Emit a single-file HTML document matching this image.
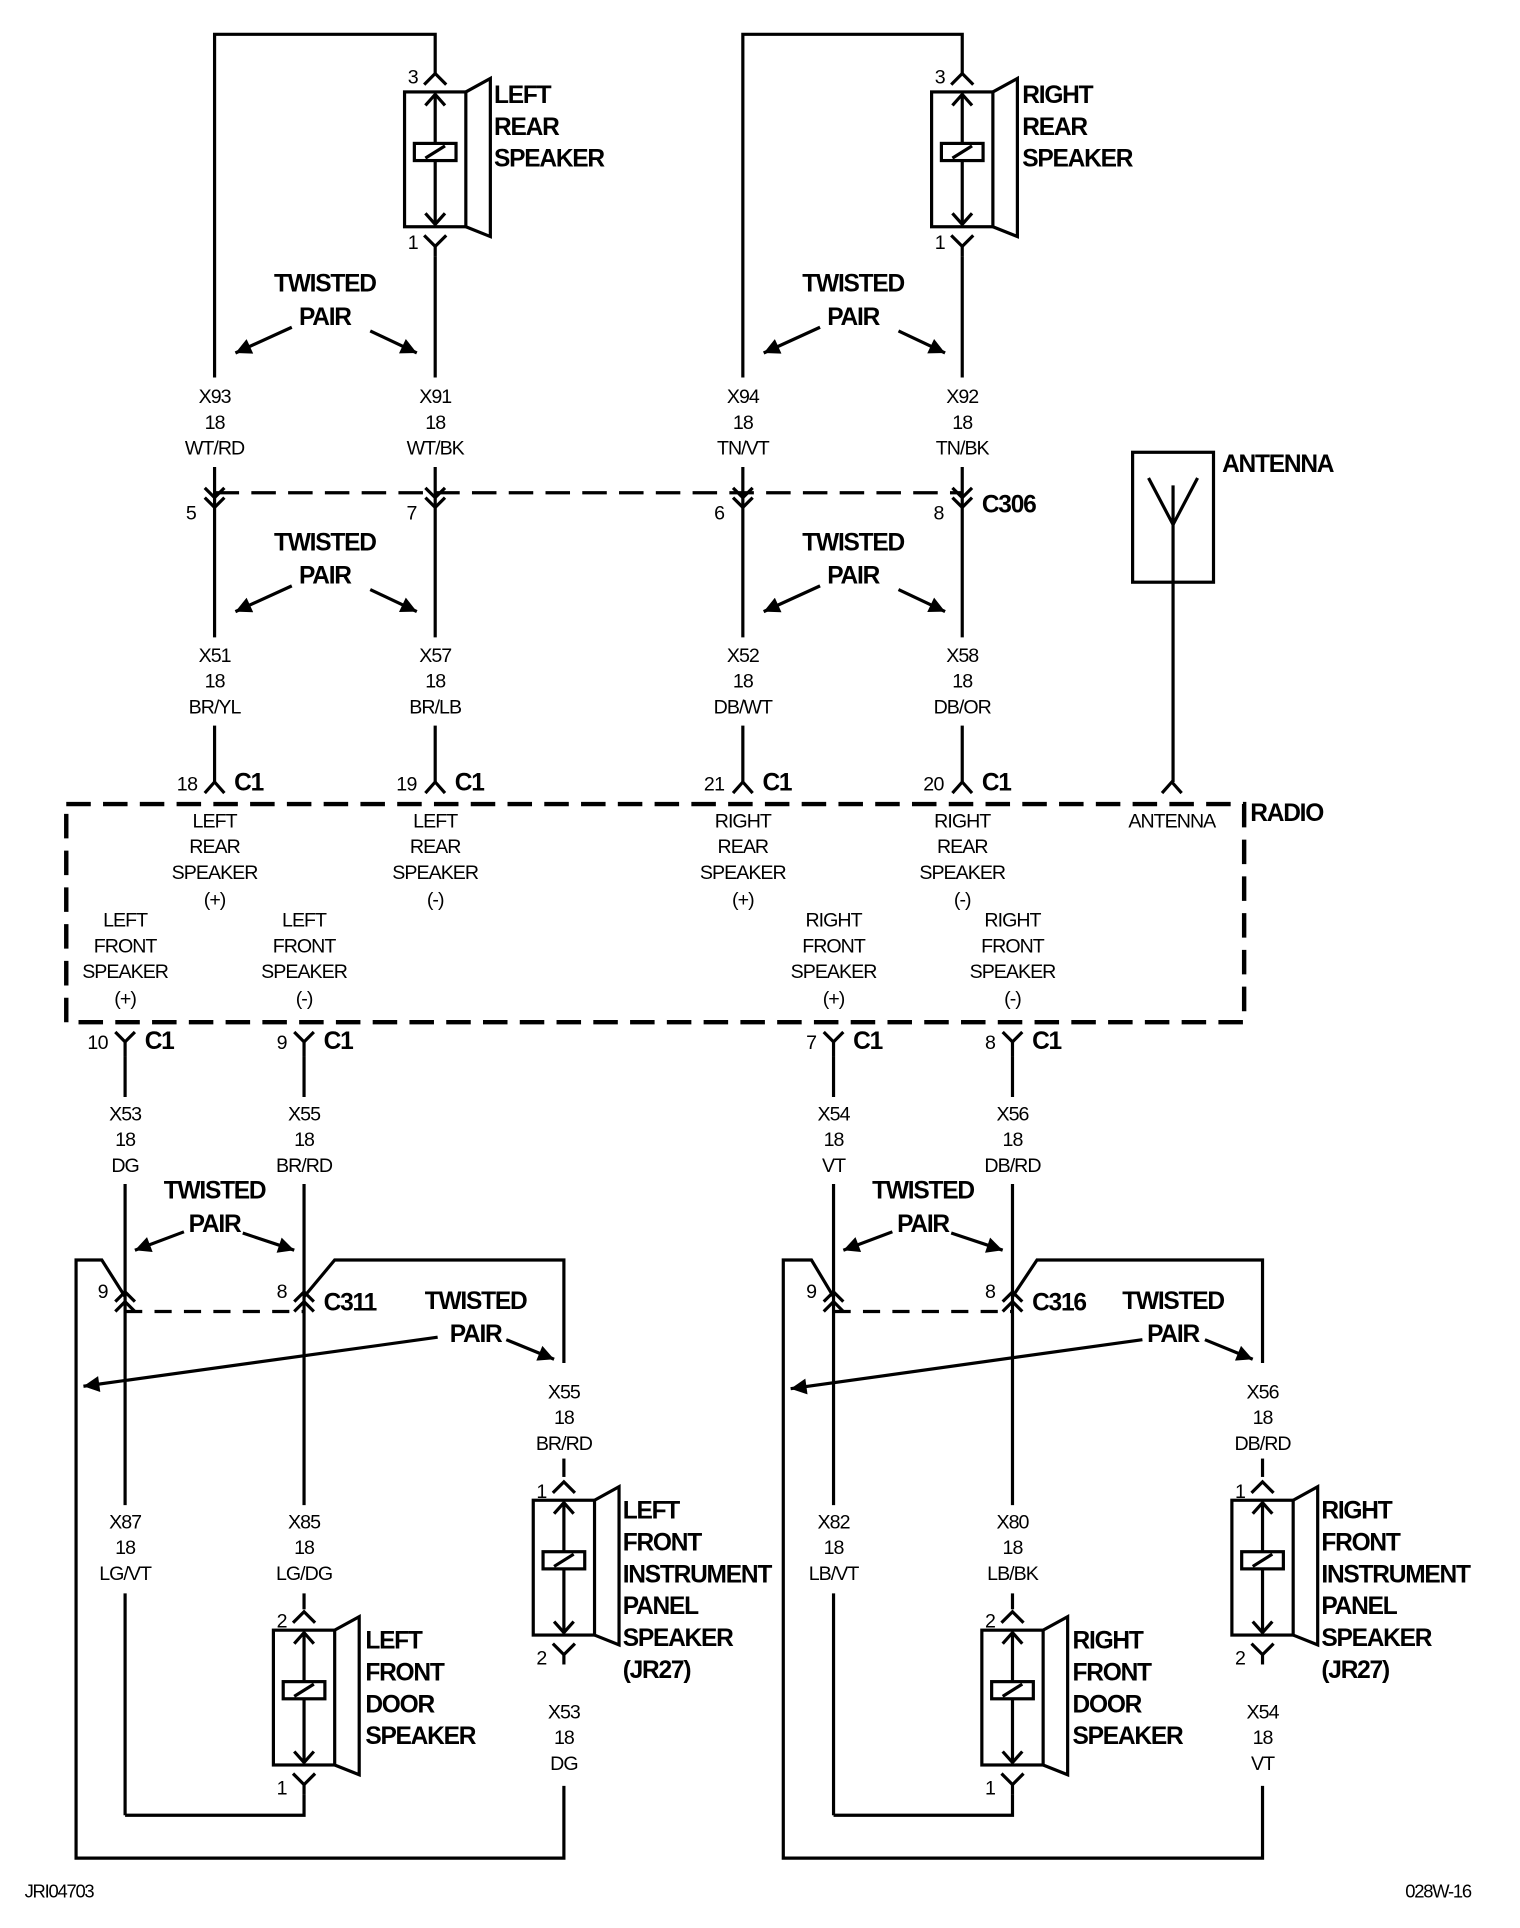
<!DOCTYPE html>
<html><head><meta charset="utf-8"><style>
html,body{margin:0;padding:0;background:#fff}
svg{display:block}
text{font-family:"Liberation Sans",sans-serif;fill:#000}
.w{font-size:16px;text-anchor:middle;letter-spacing:-0.8px}
.n{font-size:16px;text-anchor:end;letter-spacing:-0.5px}
.b{font-size:20px;font-weight:bold;letter-spacing:-1px}
.bc{font-size:20px;font-weight:bold;letter-spacing:-1px;text-anchor:middle}
.s{fill:none;stroke:#000;stroke-width:2.6}
</style></head><body>
<svg width="1520" height="1928" viewBox="0 0 1240 1573" xmlns="http://www.w3.org/2000/svg">
<defs>
<marker id="ah" viewBox="0 0 10 10" refX="10" refY="5" markerWidth="18" markerHeight="13" orient="auto" markerUnits="userSpaceOnUse">
<path d="M0,0 L10,5 L0,10 Z" fill="#000"/>
</marker>
<g id="spk" class="s">
<rect x="-25" y="0" width="50" height="110"/>
<polyline points="25,0 45,-11 45,118 25,110"/>
<line x1="0" y1="2" x2="0" y2="108"/>
<polyline points="-8,11 0,2 8,11"/>
<polyline points="-8,99 0,108 8,99"/>
<rect x="-17" y="42" width="34" height="14" fill="#fff"/>
<line x1="-8" y1="54" x2="8" y2="44"/>
<polyline points="-9,-6 0,-15 9,-6"/>
<polyline points="-9,117 0,126 9,117"/>
<line x1="0" y1="126" x2="0" y2="134"/>
</g>
<g id="dn" class="s"><polyline points="-8,398 0,406 8,398"/><polyline points="-8,406 0,414 8,406"/></g>
<g id="upc" class="s"><polyline points="-8,647 0,638 8,647"/></g>
<g id="yc" class="s"><polyline points="-8,842 0,850 8,842"/><line x1="0" y1="850" x2="0" y2="862"/></g>
<g id="uu" class="s"><polyline points="-8,1062 0,1054 8,1062"/><polyline points="-8,1070 0,1062 8,1070"/></g>
</defs>

<use href="#spk" x="355" y="75"/>
<use href="#spk" x="785" y="75"/>
<text class="n" x="341" y="68">3</text><text class="n" x="341" y="203">1</text>
<text class="n" x="771" y="68">3</text><text class="n" x="771" y="203">1</text>
<text class="b" x="403" y="84">LEFT</text><text class="b" x="403" y="110">REAR</text><text class="b" x="403" y="136">SPEAKER</text>
<text class="b" x="834" y="84">RIGHT</text><text class="b" x="834" y="110">REAR</text><text class="b" x="834" y="136">SPEAKER</text>

<g class="s">
<polyline points="355,60 355,28 175,28 175,308"/>
<line x1="355" y1="209" x2="355" y2="308"/>
<polyline points="785,60 785,28 606,28 606,308"/>
<line x1="785" y1="209" x2="785" y2="308"/>
<line x1="175" y1="381" x2="175" y2="520"/>
<line x1="355" y1="381" x2="355" y2="520"/>
<line x1="606" y1="381" x2="606" y2="520"/>
<line x1="785" y1="381" x2="785" y2="520"/>
<line x1="175" y1="592" x2="175" y2="638"/>
<line x1="355" y1="592" x2="355" y2="638"/>
<line x1="606" y1="592" x2="606" y2="638"/>
<line x1="785" y1="592" x2="785" y2="638"/>
<line x1="175" y1="402" x2="785" y2="402" stroke-dasharray="20 10"/>
</g>
<use href="#dn" x="175"/><use href="#dn" x="355"/><use href="#dn" x="606"/><use href="#dn" x="785"/>
<text class="n" x="160" y="424">5</text><text class="n" x="340" y="424">7</text><text class="n" x="591" y="424">6</text><text class="n" x="770" y="424">8</text>
<text class="b" x="801" y="418">C306</text>

<g>
<text class="bc" x="265" y="238">TWISTED</text><text class="bc" x="265" y="265">PAIR</text>
<text class="bc" x="696" y="238">TWISTED</text><text class="bc" x="696" y="265">PAIR</text>
<text class="bc" x="265" y="449">TWISTED</text><text class="bc" x="265" y="476">PAIR</text>
<text class="bc" x="696" y="449">TWISTED</text><text class="bc" x="696" y="476">PAIR</text>
</g>
<g class="s" marker-end="url(#ah)">
<line x1="238" y1="267" x2="192" y2="288"/><line x1="302" y1="270" x2="340" y2="288"/>
<line x1="669" y1="267" x2="623" y2="288"/><line x1="733" y1="270" x2="771" y2="288"/>
<line x1="238" y1="478" x2="192" y2="499"/><line x1="302" y1="481" x2="340" y2="499"/>
<line x1="669" y1="478" x2="623" y2="499"/><line x1="733" y1="481" x2="771" y2="499"/>
</g>

<text class="w" x="175" y="329">X93</text><text class="w" x="175" y="350">18</text><text class="w" x="175" y="371">WT/RD</text>
<text class="w" x="355" y="329">X91</text><text class="w" x="355" y="350">18</text><text class="w" x="355" y="371">WT/BK</text>
<text class="w" x="606" y="329">X94</text><text class="w" x="606" y="350">18</text><text class="w" x="606" y="371">TN/VT</text>
<text class="w" x="785" y="329">X92</text><text class="w" x="785" y="350">18</text><text class="w" x="785" y="371">TN/BK</text>
<text class="w" x="175" y="540">X51</text><text class="w" x="175" y="561">18</text><text class="w" x="175" y="582">BR/YL</text>
<text class="w" x="355" y="540">X57</text><text class="w" x="355" y="561">18</text><text class="w" x="355" y="582">BR/LB</text>
<text class="w" x="606" y="540">X52</text><text class="w" x="606" y="561">18</text><text class="w" x="606" y="582">DB/WT</text>
<text class="w" x="785" y="540">X58</text><text class="w" x="785" y="561">18</text><text class="w" x="785" y="582">DB/OR</text>

<use href="#upc" x="175"/><use href="#upc" x="355"/><use href="#upc" x="606"/><use href="#upc" x="785"/><use href="#upc" x="956"/>
<text class="n" x="161" y="645">18</text><text class="b" x="191" y="645">C1</text>
<text class="n" x="340" y="645">19</text><text class="b" x="371" y="645">C1</text>
<text class="n" x="591" y="645">21</text><text class="b" x="622" y="645">C1</text>
<text class="n" x="770" y="645">20</text><text class="b" x="801" y="645">C1</text>

<g class="s">
<rect x="924" y="369" width="66" height="106"/>
<polyline points="937,390 957,428 977,390"/>
<line x1="957" y1="396" x2="957" y2="638"/>
</g>
<text class="b" x="997" y="385">ANTENNA</text>

<rect x="54" y="656" width="961" height="178" fill="none" stroke="#000" stroke-width="3.6" stroke-dasharray="20 10"/>
<text class="b" x="1020" y="670">RADIO</text>
<text class="w" x="956" y="675">ANTENNA</text>
<g>
<text class="w" x="175" y="675">LEFT</text><text class="w" x="175" y="696">REAR</text><text class="w" x="175" y="717">SPEAKER</text><text class="w" x="175" y="739">(+)</text>
<text class="w" x="355" y="675">LEFT</text><text class="w" x="355" y="696">REAR</text><text class="w" x="355" y="717">SPEAKER</text><text class="w" x="355" y="739">(-)</text>
<text class="w" x="606" y="675">RIGHT</text><text class="w" x="606" y="696">REAR</text><text class="w" x="606" y="717">SPEAKER</text><text class="w" x="606" y="739">(+)</text>
<text class="w" x="785" y="675">RIGHT</text><text class="w" x="785" y="696">REAR</text><text class="w" x="785" y="717">SPEAKER</text><text class="w" x="785" y="739">(-)</text>
<text class="w" x="102" y="756">LEFT</text><text class="w" x="102" y="777">FRONT</text><text class="w" x="102" y="798">SPEAKER</text><text class="w" x="102" y="820">(+)</text>
<text class="w" x="248" y="756">LEFT</text><text class="w" x="248" y="777">FRONT</text><text class="w" x="248" y="798">SPEAKER</text><text class="w" x="248" y="820">(-)</text>
<text class="w" x="680" y="756">RIGHT</text><text class="w" x="680" y="777">FRONT</text><text class="w" x="680" y="798">SPEAKER</text><text class="w" x="680" y="820">(+)</text>
<text class="w" x="826" y="756">RIGHT</text><text class="w" x="826" y="777">FRONT</text><text class="w" x="826" y="798">SPEAKER</text><text class="w" x="826" y="820">(-)</text>
</g>

<use href="#yc" x="102"/><use href="#yc" x="248"/><use href="#yc" x="680"/><use href="#yc" x="826"/>
<text class="n" x="88" y="856">10</text><text class="b" x="118" y="856">C1</text>
<text class="n" x="234" y="856">9</text><text class="b" x="264" y="856">C1</text>
<text class="n" x="666" y="856">7</text><text class="b" x="696" y="856">C1</text>
<text class="n" x="812" y="856">8</text><text class="b" x="842" y="856">C1</text>

<text class="w" x="102" y="914">X53</text><text class="w" x="102" y="935">18</text><text class="w" x="102" y="956">DG</text>
<text class="w" x="248" y="914">X55</text><text class="w" x="248" y="935">18</text><text class="w" x="248" y="956">BR/RD</text>
<text class="w" x="680" y="914">X54</text><text class="w" x="680" y="935">18</text><text class="w" x="680" y="956">VT</text>
<text class="w" x="826" y="914">X56</text><text class="w" x="826" y="935">18</text><text class="w" x="826" y="956">DB/RD</text>

<g class="s">
<line x1="102" y1="862" x2="102" y2="895"/>
<line x1="248" y1="862" x2="248" y2="895"/>
<line x1="102" y1="966" x2="102" y2="1228"/>
<line x1="248" y1="966" x2="248" y2="1228"/>
<polyline points="460,1112 460,1028 273,1028 248,1058"/>
<polyline points="102,1058 83,1028 62,1028 62,1516 460,1516 460,1457"/>
<line x1="102" y1="1070" x2="248" y2="1070" stroke-dasharray="14 10"/>
<line x1="102" y1="1300" x2="102" y2="1481"/>
<polyline points="102,1481 248,1481 248,1464"/>
<line x1="248" y1="1300" x2="248" y2="1313"/>
<line x1="460" y1="1190" x2="460" y2="1205"/>
</g>
<use href="#uu" x="102"/><use href="#uu" x="248"/>
<text class="n" x="88" y="1059">9</text><text class="n" x="234" y="1059">8</text>
<text class="b" x="264" y="1069">C311</text>
<text class="bc" x="175" y="978">TWISTED</text><text class="bc" x="175" y="1005">PAIR</text>
<text class="bc" x="388" y="1068">TWISTED</text><text class="bc" x="388" y="1095">PAIR</text>
<g class="s" marker-end="url(#ah)">
<line x1="150" y1="1005" x2="110" y2="1020"/><line x1="198" y1="1006" x2="240" y2="1020"/>
<line x1="357" y1="1091" x2="68" y2="1131"/><line x1="413" y1="1093" x2="452" y2="1109"/>
</g>
<text class="w" x="460" y="1141">X55</text><text class="w" x="460" y="1162">18</text><text class="w" x="460" y="1183">BR/RD</text>
<text class="w" x="102" y="1247">X87</text><text class="w" x="102" y="1268">18</text><text class="w" x="102" y="1289">LG/VT</text>
<text class="w" x="248" y="1247">X85</text><text class="w" x="248" y="1268">18</text><text class="w" x="248" y="1289">LG/DG</text>
<use href="#spk" x="460" y="1224"/>
<text class="n" x="446" y="1222">1</text><text class="n" x="446" y="1358">2</text>
<text class="w" x="460" y="1402">X53</text><text class="w" x="460" y="1423">18</text><text class="w" x="460" y="1444">DG</text>
<text class="b" x="508" y="1239">LEFT</text><text class="b" x="508" y="1265">FRONT</text><text class="b" x="508" y="1291">INSTRUMENT</text><text class="b" x="508" y="1317">PANEL</text><text class="b" x="508" y="1343">SPEAKER</text><text class="b" x="508" y="1369">(JR27)</text>
<use href="#spk" x="248" y="1330"/>
<text class="n" x="234" y="1328">2</text><text class="n" x="234" y="1464">1</text>
<text class="b" x="298" y="1345">LEFT</text><text class="b" x="298" y="1371">FRONT</text><text class="b" x="298" y="1397">DOOR</text><text class="b" x="298" y="1423">SPEAKER</text>

<g class="s">
<line x1="680" y1="862" x2="680" y2="895"/>
<line x1="826" y1="862" x2="826" y2="895"/>
<line x1="680" y1="966" x2="680" y2="1228"/>
<line x1="826" y1="966" x2="826" y2="1228"/>
<polyline points="1030,1112 1030,1028 846,1028 826,1058"/>
<polyline points="680,1058 662,1028 639,1028 639,1516 1030,1516 1030,1457"/>
<line x1="680" y1="1070" x2="826" y2="1070" stroke-dasharray="14 10"/>
<line x1="680" y1="1300" x2="680" y2="1481"/>
<polyline points="680,1481 826,1481 826,1464"/>
<line x1="826" y1="1300" x2="826" y2="1313"/>
<line x1="1030" y1="1190" x2="1030" y2="1205"/>
</g>
<use href="#uu" x="680"/><use href="#uu" x="826"/>
<text class="n" x="666" y="1059">9</text><text class="n" x="812" y="1059">8</text>
<text class="b" x="842" y="1069">C316</text>
<text class="bc" x="753" y="978">TWISTED</text><text class="bc" x="753" y="1005">PAIR</text>
<text class="bc" x="957" y="1068">TWISTED</text><text class="bc" x="957" y="1095">PAIR</text>
<g class="s" marker-end="url(#ah)">
<line x1="728" y1="1005" x2="688" y2="1020"/><line x1="776" y1="1006" x2="818" y2="1020"/>
<line x1="932" y1="1093" x2="645" y2="1133"/><line x1="983" y1="1093" x2="1022" y2="1109"/>
</g>
<text class="w" x="1030" y="1141">X56</text><text class="w" x="1030" y="1162">18</text><text class="w" x="1030" y="1183">DB/RD</text>
<text class="w" x="680" y="1247">X82</text><text class="w" x="680" y="1268">18</text><text class="w" x="680" y="1289">LB/VT</text>
<text class="w" x="826" y="1247">X80</text><text class="w" x="826" y="1268">18</text><text class="w" x="826" y="1289">LB/BK</text>
<use href="#spk" x="1030" y="1224"/>
<text class="n" x="1016" y="1222">1</text><text class="n" x="1016" y="1358">2</text>
<text class="w" x="1030" y="1402">X54</text><text class="w" x="1030" y="1423">18</text><text class="w" x="1030" y="1444">VT</text>
<text class="b" x="1078" y="1239">RIGHT</text><text class="b" x="1078" y="1265">FRONT</text><text class="b" x="1078" y="1291">INSTRUMENT</text><text class="b" x="1078" y="1317">PANEL</text><text class="b" x="1078" y="1343">SPEAKER</text><text class="b" x="1078" y="1369">(JR27)</text>
<use href="#spk" x="826" y="1330"/>
<text class="n" x="812" y="1328">2</text><text class="n" x="812" y="1464">1</text>
<text class="b" x="875" y="1345">RIGHT</text><text class="b" x="875" y="1371">FRONT</text><text class="b" x="875" y="1397">DOOR</text><text class="b" x="875" y="1423">SPEAKER</text>

<text x="20" y="1548" style="font-size:15px;letter-spacing:-1px">JRI04703</text>
<text x="1200" y="1548" style="font-size:15px;letter-spacing:-1px;text-anchor:end">028W-16</text>
</svg>
</body></html>
